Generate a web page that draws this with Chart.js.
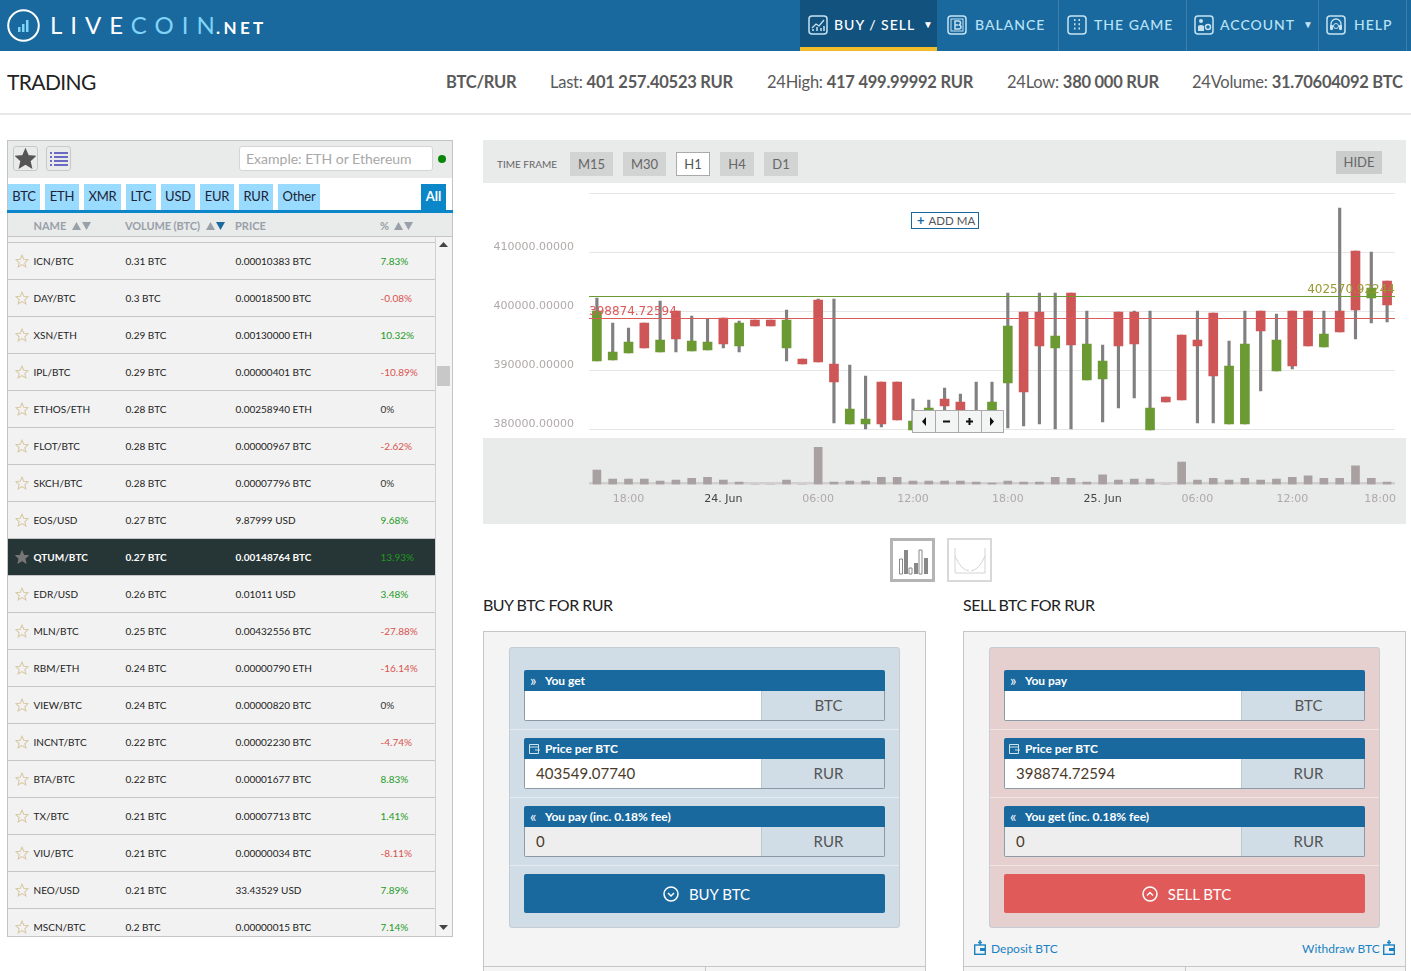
<!DOCTYPE html>
<html><head><meta charset="utf-8"><title>Trading</title>
<script src="https://cdn.jsdelivr.net/npm/chart.js@4/dist/chart.umd.min.js"></script>
<style>
html,body{margin:0;padding:0;background:#fff}
body{position:relative;width:1411px;height:971px;overflow:hidden;font-family:Lato,sans-serif;color:#222}
.a{position:absolute;box-sizing:border-box;white-space:nowrap}
.c{display:flex;align-items:center;justify-content:center}
.nt{font-size:14px;font-weight:500;letter-spacing:1px;color:#b9e3f7;line-height:20px}
.st{font-size:16.500px;color:#5a5a5a;line-height:20px;letter-spacing:-.25px}.st b{font-weight:700}
.tab{top:184px;height:26px;background:#99dbff;font-size:13px;color:#223;line-height:25px;text-align:center;letter-spacing:-.2px}
.th{font-size:11px;font-weight:700;color:#98a0a8;line-height:14px}
.r{left:8px;width:427px;height:37px;border-top:1px solid #c6c6c6;font-size:10px;line-height:36px;color:#222}
.r span{position:absolute;top:0}
.r.d{background:#263535;color:#fff;font-weight:700}
.tf{top:152px;height:24px;background:#d2d3d3;color:#666;font-size:13px;line-height:24px;text-align:center}
.gh{height:21px;background:#19699f;color:#fff;font-size:12px;font-weight:700;line-height:21px;padding-left:21px;border-radius:2px 2px 0 0}
.gb{height:30px;border:1px solid #8d9aa5;border-top:0;border-radius:0 0 2px 2px}
.gi{position:absolute;box-sizing:border-box;left:0;top:0;width:236px;height:29px;padding-left:11px;font-size:15px;line-height:28px;color:#4a3a2a}
.gu{position:absolute;box-sizing:border-box;left:236px;top:0;width:123px;height:29px;background:#d0dde6;border-left:1px solid #bcc9d2;font-size:15px;line-height:28px;text-align:center;color:#555;padding-left:11px}
svg{display:block}
</style></head><body>
<script>
// ---------- chart data ----------
const categories=['16:00','17:00','18:00','19:00','20:00','21:00','22:00','23:00','24. Jun','01:00','02:00','03:00','04:00','05:00','06:00','07:00','08:00','09:00','10:00','11:00','12:00','13:00','14:00','15:00','16:00','17:00','18:00','19:00','20:00','21:00','22:00','23:00','25. Jun','01:00','02:00','03:00','04:00','05:00','06:00','07:00','08:00','09:00','10:00','11:00','12:00','13:00','14:00','15:00','16:00','17:00','18:00'];
const open=[391582,391751,392938,398023,393107,400057,393277,393446,398870,394124,398531,398531,393785,391921,401921,391073,380903,380903,388022,388022,379886,382428,385141,384632,381072,382598,387853,399887,399887,393785,403108,388361,388530,399887,399887,379886,385480,395989,395141,399718,380903,380903,400057,389887,400057,400057,393955,400057,410227,402260,405142];
const close=[400057,393107,394802,393785,395141,395311,394972,394802,394463,398023,397514,397514,398531,391073,391412,388022,383446,381750,380903,381581,381411,383615,383954,382598,382428,384632,397514,386327,394124,395819,394294,394463,391582,394124,394463,383615,384632,384971,394124,389039,390734,394463,396667,395141,390734,394124,396158,396497,400226,403955,401074];
const high=[402260,398023,397175,398023,401752,400057,399209,398700,398870,398361,398531,398531,400226,391921,402091,402091,390904,389039,388022,388022,385141,384971,387005,385988,388022,388022,403108,399887,403108,403108,403108,400057,394294,399887,400057,400057,385480,395989,400057,399718,394972,400057,400057,399548,400057,400057,400057,417500,410227,410057,405142];
const low=[391582,391751,392938,393785,393107,393107,393277,393446,393785,393107,397514,397514,391582,391073,391412,381072,380903,380056,380395,381581,379886,382428,382598,382598,381072,382598,380225,380564,380903,380056,380056,388361,381242,383615,385310,379886,384632,384971,381072,381072,380903,380903,386497,389887,390226,394124,393955,396497,395311,398023,398192];
const volume=[3.0,1.1,1.1,1.1,0.7,0.9,1.3,1.5,0.9,0.5,0,0,0.9,0,7.8,0.5,0.7,0.7,1.5,1.5,0.7,0.7,0.7,0.7,0.5,0.3,0.7,0.5,0.5,1.5,1.3,0.5,2.0,0.9,1.1,1.1,0,4.7,0.9,1.3,0.9,1.3,0.9,1.1,1.5,1.8,1.3,1.3,3.9,1.3,0.5];
const sellPrice=398874.72594;
const buyPrice=402570.92244;
const sellLabel='398874.72594';
const buyLabel='402570.92244';
const priceTicks=[380000,390000,400000,410000,420000];
// ---------- page text ----------
const quoteTabs=['BTC','ETH','XMR','LTC','USD','EUR','RUR','Other'];
const pairNames=['ICN/BTC','DAY/BTC','XSN/ETH','IPL/BTC','ETHOS/ETH','FLOT/BTC','SKCH/BTC','EOS/USD','QTUM/BTC','EDR/USD','MLN/BTC','RBM/ETH','VIEW/BTC','INCNT/BTC','BTA/BTC','TX/BTC','VIU/BTC','NEO/USD','MSCN/BTC'];
const pairVolumes=['0.31 BTC','0.3 BTC','0.29 BTC','0.29 BTC','0.28 BTC','0.28 BTC','0.28 BTC','0.27 BTC','0.27 BTC','0.26 BTC','0.25 BTC','0.24 BTC','0.24 BTC','0.22 BTC','0.22 BTC','0.21 BTC','0.21 BTC','0.21 BTC','0.2 BTC'];
const pairPrices=['0.00010383 BTC','0.00018500 BTC','0.00130000 ETH','0.00000401 BTC','0.00258940 ETH','0.00000967 BTC','0.00007796 BTC','9.87999 USD','0.00148764 BTC','0.01011 USD','0.00432556 BTC','0.00000790 ETH','0.00000820 BTC','0.00002230 BTC','0.00001677 BTC','0.00007713 BTC','0.00000034 BTC','33.43529 USD','0.00000015 BTC'];
const pairChanges=['7.83%','-0.08%','10.32%','-10.89%','0%','-2.62%','0%','9.68%','13.93%','3.48%','-27.88%','-16.14%','0%','-4.74%','8.83%','1.41%','-8.11%','7.89%','7.14%'];

const h=[];
const box=(l,t,w,hh,st,inner='',cls='')=>h.push(`<div class="a ${cls}" style="left:${l}px;top:${t}px;width:${w}px;height:${hh}px;${st}">${inner}</div>`);
const txt=(l,t,s,st='',cls='')=>h.push(`<div class="a ${cls}" style="left:${l}px;top:${t}px;${st}">${s}</div>`);
const star=(x,y,s,fill,stroke)=>`<svg class="a" style="left:${x}px;top:${y}px" width="${s}" height="${s}" viewBox="0 0 24 24"><path d="M12 2l3 7 7.5.7-5.6 5 1.7 7.4L12 18l-6.6 4.100 1.700-7.400-5.600-5L9 9z" fill="${fill}" stroke="${stroke}" stroke-width="1.800"/></svg>`;
const navIcon=(x,inner)=>h.push(`<svg class="a" style="left:${x}px;top:15px" width="20" height="20" viewBox="0 0 20 20"><rect x="1" y="1" width="18" height="18" rx="3" fill="none" stroke="#c5e3f2" stroke-width="1.500"/>${inner}</svg>`);

// header
box(0,0,1411,51,'background:#19699f');
h.push(`<svg class="a" style="left:7px;top:9px" width="33" height="33" viewBox="0 0 33 33"><circle cx="16.500" cy="16.500" r="15.300" fill="none" stroke="#fff" stroke-width="2"/><rect x="11" y="18" width="2.500" height="5" fill="#7fd4f7"/><rect x="15" y="15" width="2.500" height="8" fill="#7fd4f7"/><rect x="19" y="11" width="2.500" height="12" fill="#7fd4f7"/></svg>`);
txt(50,10,'<span style="color:#fff">LIVE</span><span style="color:#7fd4f7">COIN</span>','font-size:24px;letter-spacing:8px;line-height:30px');
txt(216,16,'.NET','font-size:17px;font-weight:700;letter-spacing:3.400px;color:#fff;line-height:24px');
box(800,0,137,51,'background:#12527f;border-bottom:4px solid #f2bd2c');
[1058,1186,1318,1406].forEach(x=>box(x,0,1,51,'background:#3b7fac'));
navIcon(808,'<path d="M4 13l4-4 3 2 5-6" stroke="#c5e3f2" fill="none" stroke-width="1.300"/><path d="M5 16v-2M9 16v-4M13 16v-3M16 16v-5" stroke="#c5e3f2" stroke-width="1.500"/>');
navIcon(947,'<rect x="4" y="4" width="12" height="12" fill="none" stroke="#c5e3f2"/><path d="M8 6h3.500q2 0 2 2t-2 2q2.500 0 2.500 2t-2.500 2H8zM8 10h3" fill="none" stroke="#c5e3f2" stroke-width="1.500"/>');
navIcon(1067,'<path d="M7 5h1.500M11.500 5H13M7 9.300h1.500M11.500 9.300H13M7 13.600h1.500M11.500 13.600H13" stroke="#c5e3f2" stroke-width="2"/>');
navIcon(1194,'<circle cx="7" cy="6" r="2" fill="#c5e3f2"/><path d="M4 16v-5q3-2 6 0v5z" fill="#c5e3f2"/><circle cx="14" cy="12" r="2.500" fill="none" stroke="#c5e3f2" stroke-width="1.500"/>');
navIcon(1326,'<path d="M5 11V9a5 5 0 0110 0v2" fill="none" stroke="#c5e3f2" stroke-width="1.300"/><rect x="4" y="10" width="3" height="5" rx="1" fill="#c5e3f2"/><rect x="13" y="10" width="3" height="5" rx="1" fill="#c5e3f2"/><circle cx="10" cy="11" r="2.500" fill="none" stroke="#c5e3f2"/>');
txt(834,15,'BUY / SELL','color:#fff','nt');txt(923,14,'▼','color:#fff;font-size:10px;letter-spacing:0','nt');
txt(975,15,'BALANCE','','nt');txt(1094,15,'THE GAME','','nt');txt(1220,15,'ACCOUNT','','nt');
txt(1303,14,'▼','font-size:10px;letter-spacing:0;color:#c5e3f2','nt');txt(1354,15,'HELP','','nt');

// stat bar
txt(7,68,'TRADING','font-size:21px;letter-spacing:-.6px;line-height:28px;color:#222');
txt(446,72,'<b>BTC/RUR</b>','','st');txt(550,72,'Last: <b>401 257.40523 RUR</b>','','st');
txt(767,72,'24High: <b>417 499.99992 RUR</b>','','st');txt(1007,72,'24Low: <b>380 000 RUR</b>','','st');
txt(1192,72,'24Volume: <b>31.70604092 BTC</b>','','st');
box(0,113,1411,2,'background:#e8e8e8');

// market list
box(7,140,446,797,'border:1px solid #c4c4c4;background:#fff');
box(8,141,444,37,'background:#e9eaea');
box(13,146,25,25,'border:1px solid #c8c8c8;border-radius:3px;background:#e9eaea',star(1,1,21,'#555','#555'));
box(46,146,25,25,'border:1px solid #c8c8c8;border-radius:3px;background:#e9eaea','<svg class="a" style="left:3px;top:4px" width="18" height="16" viewBox="0 0 18 16"><path d="M0 2h2M4 2h14M0 6h2M4 6h14M0 10h2M4 10h14M0 14h2M4 14h14" stroke="#6a6ac0" stroke-width="2"/></svg>');
box(239,146,194,25,'background:#fff;border:1px solid #d5d5d5;border-radius:3px;font-size:14px;color:#a8a8a8;line-height:23px;padding-left:6px','Example: ETH or Ethereum');
box(438,155,8,8,'background:#0a860a;border-radius:50%');
[[8,32],[45,34],[84,37],[126,30],[161,34],[200,34],[239,34],[278,42]].forEach((t,i)=>box(t[0],184,t[1],26,'',quoteTabs[i],'tab'));
box(421,184,25,26,'background:#0a86c9;color:#fff;font-weight:700;font-size:13px;line-height:25px;text-align:center','All');
box(7,210,446,3,'background:#0a86c9');
box(8,213,444,24,'background:#e9eaea;border-bottom:1px solid #c6c6c6');
const sortA=(x,c='#98a0a8')=>`<svg class="a" style="left:${x}px;top:221px" width="19" height="10" viewBox="0 0 19 10"><path d="M0 9L4.500 1 9 9z" fill="#98a0a8"/><path d="M10 1h9l-4.500 8z" fill="${c}"/></svg>`;
txt(33.5,219,'NAME','','th');h.push(sortA(72));txt(125,219,'VOLUME (BTC)','letter-spacing:-.1px','th');h.push(sortA(206,'#1c6a9c'));
txt(235,219,'PRICE','','th');txt(380,219,'%','','th');h.push(sortA(394));
box(8,237,427,699,'background:#f2f2f2');
box(435,237,17,699,'background:#f4f4f4;border-left:1px solid #d0d0d0;border-right:0');
box(437,366,13,20,'background:#c8c8c8');
h.push('<svg class="a" style="left:439px;top:242px" width="9" height="5"><path d="M0 5L4.500 0 9 5z" fill="#444"/></svg><svg class="a" style="left:439px;top:925px" width="9" height="5"><path d="M0 0h9L4.500 5z" fill="#444"/></svg>');
h.push('<div class="a" style="left:0;top:0;width:453px;height:936px;overflow:hidden">');
pairNames.forEach((n,i)=>{
  const dark=n==='QTUM/BTC',ch=pairChanges[i];
  const col=ch[0]==='-'?'#d9534f':ch==='0%'?'#333':'#1f9a1f';
  h.push(`<div class="a r${dark?' d':''}" style="top:${242+37*i}px">${dark?star(7,11,14,'#777','#777'):star(7,11,14,'none','#d8c9a4')}<span style="left:25.500px">${n}</span><span style="left:117.500px">${pairVolumes[i]}</span><span style="left:227.500px">${pairPrices[i]}</span><span style="left:372.500px;color:${dark?'#1f9a1f':col};font-weight:400">${ch}</span></div>`);
});
h.push('</div>');

// chart panel
box(483,140,923,43,'background:#e9eaea');
box(483,438,923,86,'background:#e9eaea');
txt(497,157,'TIME FRAME','font-size:10px;color:#666;line-height:14px');
[[570,43,'M15'],[623,43,'M30'],[676,34,'H1'],[720,34,'H4'],[764,34,'D1']].forEach(b=>box(b[0],152,b[1],24,b[2]==='H1'?'background:#fff;border:1px solid #aaa;line-height:22px;color:#555':'',b[2],'tf'));
box(1336,151,46,23,'background:#cbcdcd;color:#666;font-size:13px;line-height:23px;text-align:center','HIDE');
h.push('<canvas id="price" class="a" width="923" height="255" style="left:483px;top:183px"></canvas>');
h.push('<canvas id="vol" class="a" width="923" height="86" style="left:483px;top:438px"></canvas>');
box(911,212,68,17,'background:#fff;border:1px solid #19699f;font-size:11.500px;line-height:15px;color:#555;padding-left:5px','<b style="color:#19699f;font-size:13px;margin-right:4px">+</b>ADD MA');
box(912,410,92,23,'background:#f3f5f4;border:1px solid #aaa');
[935,958,981].forEach(x=>box(x,410,1,23,'background:#aaa'));
h.push('<svg class="a" style="left:912px;top:410px" width="92" height="23"><path d="M14 7l-4 4.500 4 4.500z M31 10.500h7v2h-7z M54 10.500h7v2h-7z M56.500 8h2v7h-2z M78 7l4 4.500-4 4.500z" fill="#111"/></svg>');
box(890,538,45,44,'border:3px solid #b4b4b4;background:#fff','<svg class="a" style="left:5px;top:6px" width="30" height="28" viewBox="0 0 30 28"><path d="M1.500 12v15h3V12zM11 21v6h3v-6zM21 3v24h3V3z" fill="none" stroke="#888"/><rect x="6" y="3" width="4" height="24" fill="#888"/><rect x="16" y="16" width="4" height="11" fill="#888"/><rect x="26" y="11" width="4" height="16" fill="#888"/></svg>');
box(947,538,45,44,'border:2px solid #d8d8d8;background:#fff','<svg class="a" style="left:5px;top:6px" width="32" height="28" viewBox="0 0 32 28"><path d="M1 2v25h30V2" fill="none" stroke="#d4d4d4"/><path d="M1 10q6 14 14 15M31 10q-6 14-14 15" fill="none" stroke="#d4d4d4"/></svg>');

// order forms
function form(x,title,cardBg,btn,btnBg,lab1,lab3,price){
  txt(x,595,title,'font-size:16px;letter-spacing:-.5px;line-height:20px;color:#222');
  box(x,631,443,360,'background:#f4f4f4;border:1px solid #c6c6c6');
  box(x,966,443,1,'background:#c6c6c6');box(x+222,966,1,10,'background:#c6c6c6');
  box(x+26,647,391,281,`background:${cardBg};border:1px solid #c5ccd2;border-radius:3px`);
  [729,797,865].forEach(y=>box(x+27,y,389,1,'background:rgba(255,255,255,.45)'));
  const gi=[[670,lab1,'','#fff','»','BTC'],[738,'Price per BTC',price,'#fff','','RUR'],[806,lab3,'0','#eee','«','RUR']];
  gi.forEach(g=>{
    const ic=g[4]?`<span class="a" style="left:6px;top:0;font-weight:400;font-size:15px">${g[4]}</span>`:'<svg class="a" style="left:5px;top:5px" width="11" height="11" viewBox="0 0 11 11"><path d="M.5 1.500h9v9h-9zM.5 4h9M6 7h5" fill="none" stroke="#cfe3f0"/></svg>';
    box(x+41,g[0],361,21,'',ic+g[1],'gh');
    box(x+41,g[0]+21,361,30,'background:#fff',`<div class="gi" style="background:${g[3]}">${g[2]}</div><div class="gu">${g[5]}</div>`,'gb');
  });
  box(x+41,874,361,39,`background:${btnBg};border-radius:2px;color:#fff;font-size:15px;padding-left:4px`,`<svg width="16" height="16" viewBox="0 0 16 16" style="margin-right:10px"><circle cx="8" cy="8" r="7" fill="none" stroke="#fff" stroke-width="1.500"/><path d="${btn[0]==='B'?'M5 7l3 3 3-3':'M5 9.500l3-3 3 3'}" fill="none" stroke="#fff" stroke-width="1.500"/></svg>${btn}`,'c');
}
form(483,'BUY BTC FOR RUR','#d0dde6','BUY BTC','#19699f','You get','You pay (inc. 0.18% fee)','403549.07740');
form(963,'SELL BTC FOR RUR','#e5cfcf','SELL BTC','#e05a5a','You pay','You get (inc. 0.18% fee)','398874.72594');
const wal=x=>`<svg class="a" style="left:${x}px;top:940px" width="12" height="15" viewBox="0 0 12 15"><rect x=".700" y="5" width="10.600" height="9.300" fill="none" stroke="#1a82c4" stroke-width="1.400"/><path d="M6 0v5M4 2.500h4" stroke="#1a82c4" stroke-width="1.400"/><rect x="6" y="8" width="5" height="3" fill="#1a82c4"/></svg>`;
h.push(wal(974));txt(991,941,'Deposit BTC','font-size:12px;color:#1a82c4;line-height:16px');
txt(1302,941,'Withdraw BTC','font-size:12px;color:#1a82c4;line-height:16px');h.push(wal(1383));
document.body.insertAdjacentHTML('beforeend',h.join(''));

// ---------- charts ----------
const GREEN='#6b9932',RED='#ce5656';
const isUp=open.map((o,i)=>close[i]>o);
const zeroPad=s=>{s.paddingTop=s.paddingBottom=s.paddingLeft=s.paddingRight=0};
const priceLines={id:'priceLines',afterDatasetsDraw(c){
  const {ctx,chartArea:a,scales:{y}}=c;
  const rows=[[buyPrice,GREEN,buyLabel,'right'],[sellPrice,'#dc5a5a',sellLabel,'left']];
  ctx.save();
  rows.forEach(r=>{
    const p=y.getPixelForValue(r[0]);
    ctx.strokeStyle=r[1];ctx.lineWidth=1;
    ctx.beginPath();ctx.moveTo(a.left,Math.round(p)+.5);ctx.lineTo(a.right,Math.round(p)+.5);ctx.stroke();
    ctx.font='12px "DejaVu Sans"';ctx.textAlign=r[3];ctx.textBaseline='alphabetic';
    ctx.fillStyle=r[3]==='right'?'#9a9a30':'#dc5a5a';
    ctx.fillText(r[2],r[3]==='right'?a.right:a.left,p-3);
  });
  ctx.restore();
}};
new Chart(document.getElementById('price'),{
  type:'bar',
  data:{labels:categories,datasets:[
    {label:'Body',data:open.map((o,i)=>[o,close[i]]),backgroundColor:isUp.map(u=>u?GREEN:RED),barThickness:9,grouped:false,borderSkipped:false},
    {label:'Wick',data:low.map((l,i)=>[l,high[i]]),backgroundColor:'#808080',barThickness:2.500,grouped:false,borderSkipped:false}
  ]},
  options:{responsive:false,animation:false,devicePixelRatio:1,
    layout:{padding:{top:10.300,bottom:6.900,right:11,left:0}},
    plugins:{legend:{display:false},tooltip:{enabled:false}},
    scales:{
      x:{display:false,grid:{display:false}},
      y:{min:379700,max:420000,
        afterFit:s=>{s.width=106;zeroPad(s)},
        afterBuildTicks:s=>{s.ticks=priceTicks.map(v=>({value:v}))},
        border:{display:false},
        grid:{color:'#e6e6e6',lineWidth:1,drawTicks:false},
        ticks:{padding:15,labelOffset:-5,color:'#b0a9a9',font:{family:'"DejaVu Sans"',size:11},
          callback:v=>v===420000?'':Number(v).toFixed(5)}}
    }},
  plugins:[priceLines]
});
const volBase={id:'volBase',beforeDatasetsDraw(c){
  const {ctx,chartArea:a}=c;ctx.save();ctx.fillStyle='#d2cfd0';ctx.fillRect(a.left,a.bottom-2.400,a.right-a.left,2.400);ctx.restore();
}};
new Chart(document.getElementById('vol'),{
  type:'bar',
  data:{labels:categories,datasets:[{label:'Volume',data:volume,backgroundColor:'#a9a1a1',barThickness:8}]},
  options:{responsive:false,animation:false,devicePixelRatio:1,
    layout:{padding:{top:8,bottom:0,left:106,right:11}},
    plugins:{legend:{display:false},tooltip:{enabled:false}},
    scales:{
      y:{display:false,min:0,max:8.100},
      x:{afterFit:s=>{s.height=39.600;zeroPad(s)},
        border:{display:false},grid:{display:false,drawTicks:false},
        ticks:{autoSkip:false,maxRotation:0,padding:8,font:{family:'"DejaVu Sans"',size:11},
          color:ctx=>String(ctx.tick&&ctx.tick.label).includes('Jun')?'#444':'#b0a9a9',
          callback(v,i){ if(i%6!==2) return ''; const t=categories[i]; return i===categories.length-1?t+'    ':t; }}}
    }},
  plugins:[volBase]
});
</script>
</body></html>
